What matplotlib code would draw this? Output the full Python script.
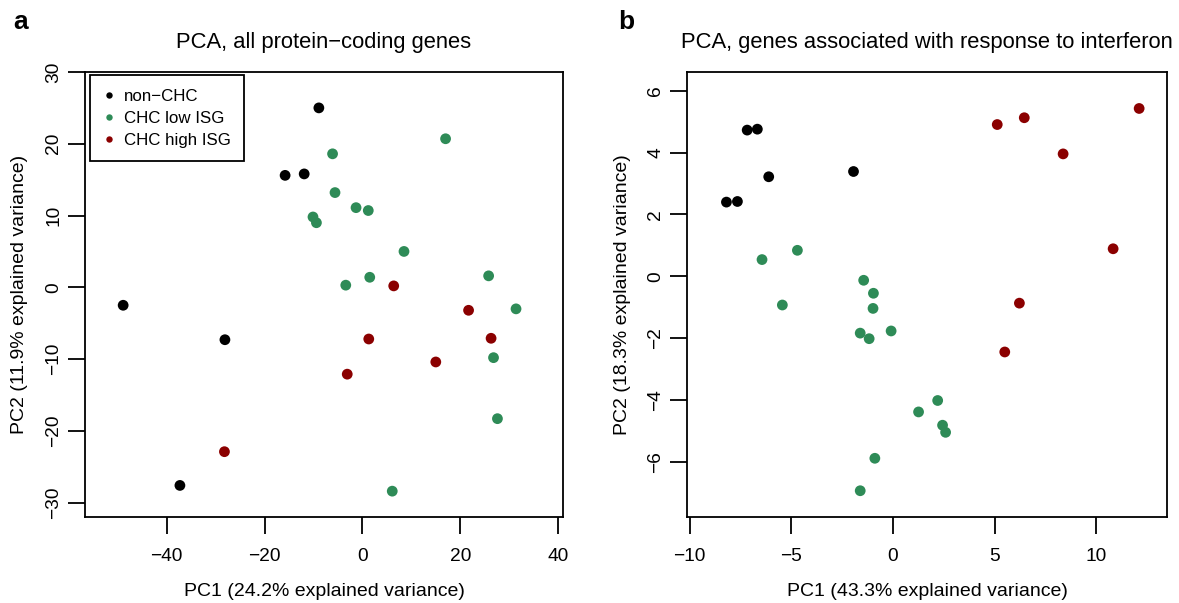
import matplotlib
matplotlib.use("Agg")
import matplotlib.pyplot as plt
from matplotlib.lines import Line2D

plt.rcParams['font.family'] = ['Liberation Sans', 'DejaVu Sans']
plt.rcParams['axes.unicode_minus'] = True

# ---- data: panel a (all protein-coding genes) ----
a_nonchc_pc1 = [-8.9, -15.8, -11.9, -48.9, -28.1, -37.3]
a_nonchc_pc2 = [25.0, 15.6, 15.8, -2.5, -7.3, -27.6]
a_low_pc1 = [-6.1, 17.0, -5.6, -1.3, 1.2, -10.1, -9.4, 8.5, 1.5, -3.4, 25.8, 31.4, 26.8, 27.6, 6.1]
a_low_pc2 = [18.6, 20.7, 13.2, 11.1, 10.7, 9.8, 9.0, 5.0, 1.4, 0.3, 1.6, -3.0, -9.8, -18.3, -28.4]
a_high_pc1 = [6.4, 21.7, 1.3, 26.3, 15.0, -3.1, -28.2]
a_high_pc2 = [0.2, -3.2, -7.2, -7.1, -10.4, -12.1, -22.9]

# ---- data: panel b (interferon response genes) ----
b_nonchc_pc1 = [-8.19, -7.65, -7.17, -6.67, -6.11, -1.94]
b_nonchc_pc2 = [2.40, 2.42, 4.73, 4.76, 3.22, 3.39]
b_low_pc1 = [-6.44, -4.70, -1.44, -0.96, -5.44, -0.98, -1.61, -1.17, -0.09, 2.20, 1.26, 2.44, 2.59, -0.89, -1.61]
b_low_pc2 = [0.54, 0.84, -0.13, -0.55, -0.93, -1.04, -1.84, -2.02, -1.77, -4.02, -4.39, -4.82, -5.05, -5.89, -6.94]
b_high_pc1 = [5.13, 6.46, 8.37, 12.11, 10.83, 6.22, 5.50]
b_high_pc2 = [4.91, 5.13, 3.96, 5.43, 0.89, -0.87, -2.45]

group_labels = ["non\u2212CHC", "CHC low ISG", "CHC high ISG"]
group_colors = ["#000000", "#2E8B57", "#8B0000"]

a_xticks = [-40, -20, 0, 20, 40]
a_yticks = [-30, -20, -10, 0, 10, 20, 30]
b_xticks = [-10, -5, 0, 5, 10]
b_yticks = [-6, -4, -2, 0, 2, 4, 6]

W, H = 1179, 603
fig = plt.figure(figsize=(W / 100, H / 100), dpi=100)

FS = 13.8
LW = 1.3


def make_ax(left_px, right_px, top_px, bottom_px):
    return fig.add_axes([left_px / W, 1 - bottom_px / H,
                         (right_px - left_px) / W, (bottom_px - top_px) / H])


def style(ax, xticks, yticks, xlim, ylim):
    ax.set_xlim(*xlim)
    ax.set_ylim(*ylim)
    ax.set_xticks(xticks)
    ax.set_yticks(yticks)
    for s in ax.spines.values():
        s.set_linewidth(LW)
    ax.tick_params(axis='both', direction='out', length=12.5, width=LW,
                   labelsize=FS, colors='black')
    ax.tick_params(axis='x', pad=10)
    ax.tick_params(axis='y', pad=4)
    for lab in ax.get_yticklabels():
        lab.set_rotation(90)
        lab.set_va('center')
        lab.set_ha('right')


ms = 60

ax1 = make_ax(85, 563, 72, 517)
for xs, ys, c in [(a_nonchc_pc1, a_nonchc_pc2, group_colors[0]),
                  (a_low_pc1, a_low_pc2, group_colors[1]),
                  (a_high_pc1, a_high_pc2, group_colors[2])]:
    ax1.scatter(xs, ys, s=ms, color=c, edgecolors='none', zorder=3)
style(ax1, a_xticks, a_yticks, (-56.7, 41.0), (-32.0, 30.0))

handles = [Line2D([], [], linestyle='none', marker='o', markersize=4.6,
                  markerfacecolor=c, markeredgecolor='none') for c in group_colors]
leg = ax1.legend(handles, group_labels, loc='upper left',
                 bbox_to_anchor=(0.0105, 0.993), borderaxespad=0,
                 fontsize=12.2, frameon=True, fancybox=False, framealpha=1,
                 edgecolor='black', borderpad=0.8, labelspacing=0.42,
                 handlelength=0.6, handletextpad=0.6)
leg.get_frame().set_linewidth(LW)

ax2 = make_ax(687, 1167, 72, 517)
for xs, ys, c in [(b_nonchc_pc1, b_nonchc_pc2, group_colors[0]),
                  (b_low_pc1, b_low_pc2, group_colors[1]),
                  (b_high_pc1, b_high_pc2, group_colors[2])]:
    ax2.scatter(xs, ys, s=ms, color=c, edgecolors='none', zorder=3)
style(ax2, b_xticks, b_yticks, (-10.13, 13.48), (-7.79, 6.61))

# titles
fig.text(324 / W, 1 - 48 / H, "PCA, all protein\u2212coding genes",
         ha='center', va='baseline', fontsize=15.8)
fig.text(927 / W, 1 - 48 / H, "PCA, genes associated with response to interferon",
         ha='center', va='baseline', fontsize=15.8)

# axis labels
fig.text(324 / W, 1 - 596 / H, "PC1 (24.2% explained variance)",
         ha='center', va='baseline', fontsize=14)
fig.text(927 / W, 1 - 596 / H, "PC1 (43.3% explained variance)",
         ha='center', va='baseline', fontsize=14)
fig.text(20 / W, 1 - 294.5 / H, "PC2 (11.9% explained variance)",
         ha='center', va='center', rotation=90, fontsize=14)
fig.text(622 / W, 1 - 294.5 / H, "PC2 (18.3% explained variance)",
         ha='center', va='center', rotation=90, fontsize=14)

# panel letters
fig.text(13 / W, 1 - 29 / H, "a", ha='left', va='baseline',
         fontsize=19, fontweight='bold')
fig.text(618 / W, 1 - 29 / H, "b", ha='left', va='baseline',
         fontsize=19, fontweight='bold')

fig.savefig("out.png", dpi=100)
